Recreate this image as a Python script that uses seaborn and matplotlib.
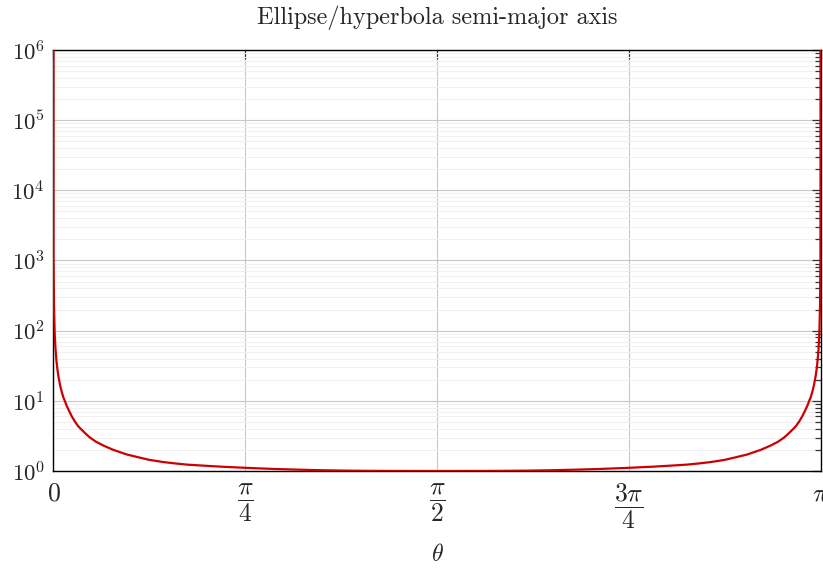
import numpy as np
import pandas as pd
import matplotlib
matplotlib.use("Agg")
import matplotlib.pyplot as plt
import matplotlib.ticker as ticker
import seaborn as sns

# values (theta in radians, semi-major axis)
theta_left = [5e-7, 5e-6, 4.5e-5, 4.5e-4, 0.002, 0.005, 0.008, 0.012, 0.015, 0.02,
              0.027, 0.033, 0.04, 0.0463, 0.054, 0.063, 0.075, 0.087, 0.1, 0.111,
              0.13, 0.149, 0.175, 0.205, 0.245, 0.3, 0.35, 0.393, 0.45, 0.5,
              0.55, 0.6, 0.69, 0.785, 0.9, 1.0, 1.1, 1.2, 1.3, 1.4, 1.5708]
a_left = [1e6, 1e5, 1e4, 1e3, 225, 90, 56, 37.5, 30, 22.5,
          16.7, 13.7, 11.3, 10, 8.5, 7.3, 6.0, 5.1, 4.4, 4.0,
          3.45, 3.0, 2.6, 2.3, 2.0, 1.72, 1.56, 1.44, 1.34, 1.28,
          1.23, 1.2, 1.15, 1.11, 1.07, 1.045, 1.025, 1.012, 1.005, 1.002, 1.0]

theta_right = [1.7416, 1.8416, 1.9416, 2.0416, 2.1416, 2.2416, 2.3562, 2.4516,
               2.5416, 2.5916, 2.6416, 2.6916, 2.7486, 2.7916, 2.8416, 2.8966,
               2.9366, 2.9666, 2.9926, 3.0116, 3.0306, 3.0416, 3.0546, 3.0666,
               3.0786, 3.0876, 3.0953, 3.1016, 3.1086, 3.1146, 3.1216, 3.1266,
               3.1296, 3.1336, 3.1366, 3.1396, 3.14114, 3.141548, 3.141588,
               3.1415922]
a_right = [1.002, 1.005, 1.012, 1.025, 1.045, 1.07, 1.11, 1.15,
           1.2, 1.23, 1.28, 1.34, 1.44, 1.56, 1.72, 2.0,
           2.3, 2.6, 3.0, 3.45, 4.0, 4.4, 5.1, 6.0,
           7.3, 8.5, 10, 11.3, 13.7, 16.7, 22.5, 30,
           37.5, 56, 90, 225, 1e3, 1e4, 1e5,
           1e6]

xtick_pos = [0, np.pi / 4, np.pi / 2, 3 * np.pi / 4, np.pi]
xtick_labels = [r"$0$", r"$\dfrac{\pi}{4}$", r"$\dfrac{\pi}{2}$",
                r"$\dfrac{3\pi}{4}$", r"$\pi$"]

df = pd.DataFrame({"theta": theta_left + theta_right,
                   "a": a_left + a_right})

sns.set_theme(style="white")
plt.rcParams["font.family"] = ["cmr10", "DejaVu Serif"]
plt.rcParams["mathtext.fontset"] = "cm"
plt.rcParams["axes.formatter.use_mathtext"] = True

fig = plt.figure(figsize=(8.23, 5.70), dpi=100)
ax = fig.add_axes([0.065, 0.1737, 0.932, 0.7387])

sns.lineplot(x="theta", y="a", data=df, ax=ax, color="#cc0000",
             linewidth=1.6, zorder=5)

ax.set_yscale("log")
ax.set_xlim(0, np.pi)
ax.set_ylim(1, 1e6)

ax.set_xticks(xtick_pos)
ax.set_xticklabels(xtick_labels, fontsize=18.5)
ax.yaxis.set_major_locator(ticker.LogLocator(base=10, numticks=10))
ax.yaxis.set_minor_locator(ticker.LogLocator(base=10, subs=np.arange(2, 10), numticks=20))
ax.yaxis.set_minor_formatter(ticker.NullFormatter())
ax.tick_params(axis="y", labelsize=16.5)

ax.grid(True, which="major", color="#c8c8c8", linewidth=0.8)
ax.grid(True, which="minor", axis="y", color="#f0f0f0", linewidth=0.8)
ax.set_axisbelow(True)

ax.tick_params(which="both", direction="in", top=True, right=True,
               color="#333333", width=0.9)
ax.tick_params(which="major", length=6.5)
ax.tick_params(axis="x", which="major", pad=8)
ax.tick_params(axis="y", which="major", pad=6)
ax.tick_params(which="minor", length=4.5)

for sp in ax.spines.values():
    sp.set_color("black")
    sp.set_linewidth(1.0)

ax.set_xlabel(r"$\theta$", fontsize=17, labelpad=9)
ax.set_ylabel("")
ax.set_title("Ellipse/hyperbola semi-major axis", fontsize=17.5, pad=19)

fig.savefig("out.png", dpi=100)
